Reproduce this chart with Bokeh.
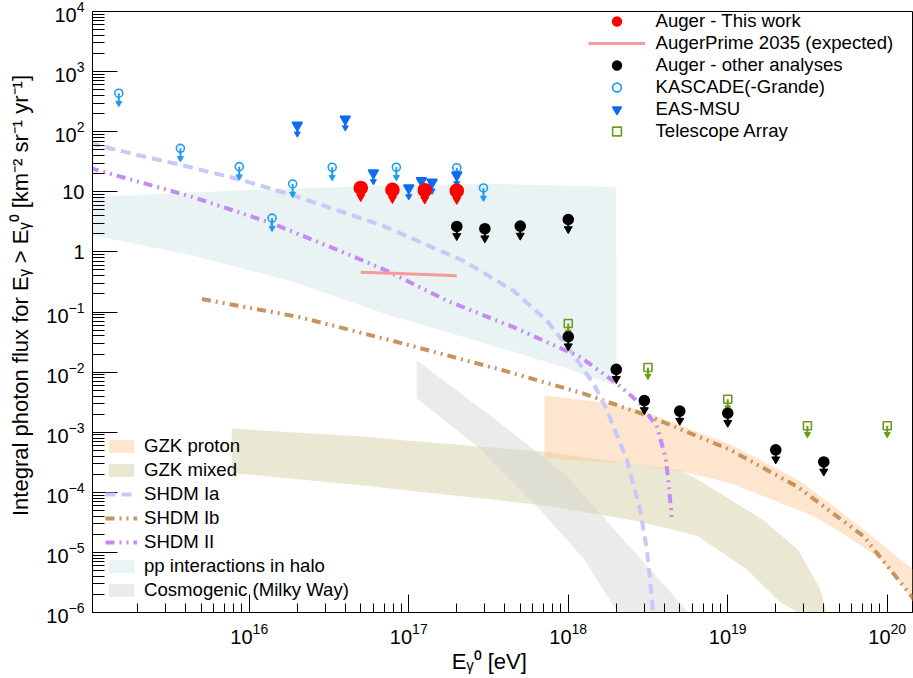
from bokeh.plotting import figure
from bokeh.models import Range1d, FixedTicker, Legend, LegendItem
from bokeh.embed import file_html
from bokeh.resources import INLINE

FONT = "Liberation Sans"

# ---------------- data ----------------
auger_E = [5.0e16, 7.9e16, 1.26e17, 2.0e17]
auger_F = [11.6, 10.8, 10.6, 10.4]

prime_E = [5.0e16, 8.0e16, 1.25e17, 2.0e17]
prime_F = [0.46, 0.44, 0.42, 0.40]

other_E = [2.0e17, 3.0e17, 5.0e17, 1.0e18, 1.0e18, 2.0e18, 3.0e18, 5.0e18, 1.0e19, 2.0e19, 4.0e19]
other_F = [2.65, 2.43, 2.69, 3.46, 0.0388, 0.0111, 0.00336, 0.00224, 0.00207, 5.1e-4, 3.2e-4]

kascade_E = [1.52e15, 3.7e15, 8.65e15, 1.39e16, 1.87e16, 3.31e16, 8.36e16, 2.0e17, 2.94e17]
kascade_F = [437, 52.8, 26.2, 3.65, 13.5, 25.6, 25.6, 25.2, 11.6]

easmsu_E = [2.0e16, 4.0e16, 6.0e16, 1.0e17, 1.2e17, 1.4e17, 2.0e17]
easmsu_F = [128, 162, 20.6, 11.6, 15.3, 14.4, 19.1]

ta_E = [1.0e18, 3.16e18, 1.0e19, 3.16e19, 1.0e20]
ta_F = [0.0644, 0.0119, 0.00354, 0.00128, 0.00128]

# pp interactions in halo (band)
pp_up_E = [1.0e15, 1.0e16, 9.0e16, 3.7e17, 2.0e18]
pp_up_F = [8.2, 10.7, 13.0, 13.5, 12.0]
pp_lo_E = [1.0e15, 4.3e15, 1.8e16, 7.7e16, 2.8e17, 8.9e17, 2.0e18]
pp_lo_F = [1.95, 0.88, 0.33, 0.087, 0.032, 0.0125, 0.0060]

# GZK proton (band)
gzkp_up_E = [7.1e17, 1.51e18, 2.82e18, 1.05e19, 1.66e19, 2.75e19, 4.37e19, 7.1e19, 1.45e20, 1.6e20]
gzkp_up_F = [4.07e-3, 3.24e-3, 2.34e-3, 6.2e-4, 3.3e-4, 1.62e-4, 6.6e-5, 2.4e-5, 5.2e-6, 4.0e-6]
gzkp_lo_E = [7.1e17, 2.45e18, 5.0e18, 1.05e19, 3.47e19, 5.6e19, 9.1e19, 1.45e20, 1.6e20]
gzkp_lo_F = [3.7e-4, 3.0e-4, 2.24e-4, 1.41e-4, 4.0e-5, 1.86e-5, 7.6e-6, 1.66e-6, 1.2e-6]

# GZK mixed (band)
gzkm_up_E = [7.76e15, 5.75e16, 8.9e16, 6.6e17, 2.45e18, 5.0e18, 6.5e18, 1.66e19, 2.75e19, 3.8e19, 4.17e19, 4.47e19]
gzkm_up_F = [1.15e-3, 8.3e-4, 7.4e-4, 4.8e-4, 3.0e-4, 2.35e-4, 1.62e-4, 3.5e-5, 1.12e-5, 2.45e-6, 1.0e-6, 5.0e-7]
gzkm_lo_E = [7.76e15, 5.75e16, 8.9e16, 6.6e17, 2.45e18, 5.0e18, 6.5e18, 1.32e19, 2.14e19, 2.75e19, 3.16e19]
gzkm_lo_F = [2.1e-4, 1.26e-4, 1.1e-4, 6.2e-5, 3.5e-5, 2.24e-5, 1.86e-5, 5.2e-6, 1.48e-6, 1.0e-6, 5.0e-7]

# Cosmogenic (Milky Way) (band)
cosmo_up_E = [1.12e17, 3.75e17, 9.8e17, 2.02e18, 4.8e18, 6.6e18]
cosmo_up_F = [1.58e-2, 1.41e-3, 1.86e-4, 2.14e-5, 1.66e-6, 6.3e-7]
cosmo_lo_E = [1.12e17, 2.7e17, 6.6e17, 1.26e18, 2.04e18, 2.24e18]
cosmo_lo_F = [3.67e-3, 5.8e-4, 5.2e-5, 7.7e-6, 1.0e-6, 6.3e-7]

# SHDM models (lines)
shdm1a_E = [1.0e15, 1.88e15, 3.69e15, 8.8e15, 1.81e16, 3.72e16, 6.95e16, 2.21e17, 4.54e17,
            7.35e17, 1.03e18, 1.44e18, 1.75e18, 2.33e18, 2.82e18, 3.11e18, 3.35e18, 3.43e18]
shdm1a_F = [64.6, 42.4, 28.2, 15.9, 9.0, 4.75, 2.69, 0.706, 0.225,
            0.0718, 0.0229, 6.43e-3, 2.32e-3, 3.45e-4, 5.13e-5, 1.12e-5, 1.66e-6, 6.3e-7]

shdm1b_E = [5.05e15, 2.09e16, 8.85e16, 3.75e17, 1.25e18, 3.27e18, 1.04e19, 2.72e19, 7.1e19, 1.39e20, 1.6e20]
shdm1b_F = [0.164, 0.0817, 0.0307, 0.011, 4.39e-3, 1.81e-3, 5.06e-4, 1.25e-4, 1.86e-5, 2.0e-6, 1.2e-6]

shdm2_E = [1.0e15, 4.27e15, 1.36e16, 3.72e16, 7.3e16, 1.74e17, 4.54e17, 1.19e18, 2.02e18,
           2.82e18, 3.6e18, 4.06e18, 4.26e18, 4.47e18]
shdm2_F = [24.9, 8.41, 3.05, 1.035, 0.483, 0.154, 0.0558, 0.0178, 6.43e-3,
           3.0e-3, 1.23e-3, 3.93e-4, 1.42e-4, 3.3e-5]

x_major = [10.0 ** k for k in range(15, 21)]
x_minor = [m * 10.0 ** k for k in range(15, 21) for m in range(2, 10)]
y_major = [10.0 ** k for k in range(-6, 5)]
y_minor = [m * 10.0 ** k for k in range(-7, 4) for m in range(2, 10)]

# titles (the leading/trailing wide spaces shift the centred titles like the reference)
x_title = "Eᵧ⁰ [eV]\u2003\u2009"
y_title = "\u2003\u2002Integral photon flux for Eᵧ > Eᵧ⁰ [km⁻² sr⁻¹ yr⁻¹]"

# ---------------- figure ----------------
TOP, BOTTOM = 11, 66
p = figure(width=913, height=678, x_axis_type="log", y_axis_type="log",
           x_range=Range1d(1.04e15, 1.44e20), y_range=Range1d(1e-6, 1e4),
           output_backend="svg", toolbar_location=None,
           min_border_left=92, min_border_right=1, min_border_top=TOP, min_border_bottom=BOTTOM)
p.grid.visible = False
p.outline_line_color = "black"
p.outline_line_width = 1
p.background_fill_color = "white"
p.border_fill_color = "white"

p.xaxis.ticker = FixedTicker(ticks=x_major, minor_ticks=x_minor)
p.yaxis.ticker = FixedTicker(ticks=y_major, minor_ticks=y_minor)
p.yaxis.major_label_overrides = {1: "1", 10: "10"}
for ax in (p.xaxis[0], p.yaxis[0]):
    ax.axis_line_color = "black"
    ax.major_tick_line_color = "black"
    ax.minor_tick_line_color = "black"
    ax.major_tick_out = 0
    ax.minor_tick_out = 0
    ax.major_label_text_font = FONT
    ax.major_label_text_font_size = "20px"
    ax.major_label_text_color = "black"
    ax.axis_label_text_font = FONT
    ax.axis_label_text_font_size = "22px"
    ax.axis_label_text_font_style = "normal"
    ax.axis_label_text_color = "black"
p.xaxis.major_tick_in = 18
p.xaxis.minor_tick_in = 9
p.yaxis.major_tick_in = 25
p.yaxis.minor_tick_in = 12
p.xaxis.major_label_standoff = 10
p.yaxis.major_label_standoff = 8
p.xaxis.axis_label = x_title
p.yaxis.axis_label = y_title
p.xaxis.axis_label_standoff = 2
p.yaxis.axis_label_standoff = 10

FRAME_H = 678 - TOP - BOTTOM


def band(upE, upF, loE, loF, color, alpha):
    return p.patch(upE + loE[::-1], upF + loF[::-1], fill_color=color,
                   fill_alpha=alpha, line_alpha=0)


r_pp = band(pp_up_E, pp_up_F, pp_lo_E, pp_lo_F, "#d4e7ea", 0.5)
r_gzkm = band(gzkm_up_E, gzkm_up_F, gzkm_lo_E, gzkm_lo_F, "#d5d2a8", 0.5)
r_gzkp = band(gzkp_up_E, gzkp_up_F, gzkp_lo_E, gzkp_lo_F, "#fcc590", 0.45)
r_cosmo = band(cosmo_up_E, cosmo_up_F, cosmo_lo_E, cosmo_lo_F, "#d2d2d2", 0.45)

DDOT = "9 5 2 5 2 5"
r_1b = p.line(shdm1b_E, shdm1b_F, line_color="#c8945e", line_width=4, line_dash=DDOT)
r_1a = p.line(shdm1a_E, shdm1a_F, line_color="#c8c8fa", line_width=4, line_dash="10 6")
r_2 = p.line(shdm2_E, shdm2_F, line_color="#c48af5", line_width=4, line_dash=DDOT)

r_prime = p.line(prime_E, prime_F, line_color="#f99a9a", line_width=3)

PX_PER_DEC = FRAME_H / 10.0


def shifted(F, px):
    return [f * 10 ** (-px / PX_PER_DEC) for f in F]


def limits(E, F, color, marker, size, fill, shaft_px, head_px, head_size):
    p.segment(x0=E, y0=F, x1=E, y1=shifted(F, shaft_px), line_color=color, line_width=2)
    p.scatter(E, shifted(F, head_px), marker="inverted_triangle", size=head_size,
              line_color=color, fill_color=color)
    return p.scatter(E, F, marker=marker, size=size, line_color=color,
                     fill_color=fill, line_width=1.6)


r_kas = limits(kascade_E, kascade_F, "#1d9cf2", "circle", 8, None, 10, 10, 6)
r_eas = limits(easmsu_E, easmsu_F, "#0b6cf2", "inverted_triangle", 10, "#0b6cf2", 8, 8.5, 6)
r_ta = limits(ta_E, ta_F, "#6b9c18", "square", 8, None, 8, 8.5, 6)
r_other = limits(other_E, other_F, "black", "circle", 10, "black", 9, 9.5, 8)
r_auger = limits(auger_E, auger_F, "#ff0000", "circle", 13, "#ff0000", 9, 9, 8)

common = dict(padding=0, margin=0, spacing=0, background_fill_alpha=0, border_line_alpha=0,
              label_text_font=FONT, label_text_font_size="18.6px", label_text_color="black")

leg_top = Legend(items=[
    LegendItem(label="Auger - This work", renderers=[r_auger]),
    LegendItem(label="AugerPrime 2035 (expected)", renderers=[r_prime]),
    LegendItem(label="Auger - other analyses", renderers=[r_other]),
    LegendItem(label="KASCADE(-Grande)", renderers=[r_kas]),
    LegendItem(label="EAS-MSU", renderers=[r_eas]),
    LegendItem(label="Telescope Array", renderers=[r_ta]),
], location=(495.5, FRAME_H + TOP - 141.7), glyph_width=57, glyph_height=22, label_height=22,
    label_standoff=11, **common)

leg_bot = Legend(items=[
    LegendItem(label="GZK proton", renderers=[r_gzkp]),
    LegendItem(label="GZK mixed", renderers=[r_gzkm]),
    LegendItem(label="SHDM Ia", renderers=[r_1a]),
    LegendItem(label="SHDM Ib", renderers=[r_1b]),
    LegendItem(label="SHDM II", renderers=[r_2]),
    LegendItem(label="pp interactions in halo", renderers=[r_pp]),
    LegendItem(label="Cosmogenic (Milky Way)", renderers=[r_cosmo]),
], location=(13, FRAME_H + TOP - 602), glyph_width=32, glyph_height=16, label_height=24,
    label_standoff=7, **common)

p.add_layout(leg_top)
p.add_layout(leg_bot)

open("out.html", "w").write(file_html(p, INLINE))
